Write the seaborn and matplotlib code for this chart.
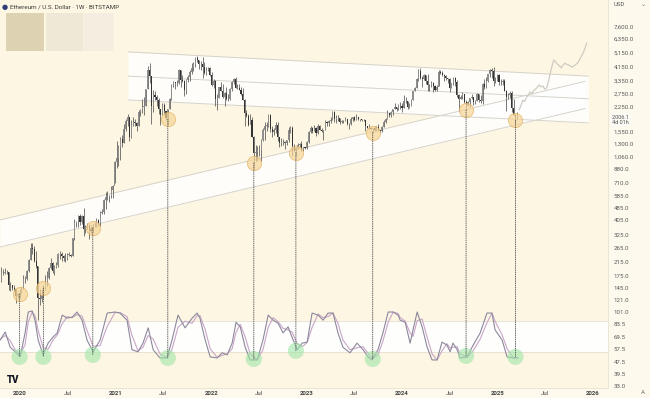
import matplotlib
matplotlib.use("Agg")
import matplotlib.pyplot as plt
import matplotlib.dates as mdates
import matplotlib.transforms as mtransforms
from matplotlib.patches import Rectangle, ConnectionPatch
from matplotlib.ticker import FixedLocator, FuncFormatter, NullLocator
import numpy as np
import pandas as pd
import seaborn as sns

# --- Bougies hebdomadaires ETH/USD (Bitstamp), lundi 2019-10-21 -> 2025-03-17 ---
first_open = 162
close = [
    181, 183, 185, 184, 151, 151, 145, 142, 128, 132, 135,  # 2019
    143, 167, 167, 189, 223, 266, 261, 217, 201, 124, 122, 131, 143,
    158, 170, 197, 211, 188, 199, 206, 243, 244, 234, 229, 227, 241,
    241, 236, 310, 386, 392, 433, 396, 430, 353, 366, 373, 354, 346,
    367, 366, 405, 386, 455, 461, 550, 575, 584, 588, 637, 685, 975,  # 2020
    1040, 1232, 1382, 1313, 1610, 1810, 1930, 1420, 1720, 1790, 1780, 1690, 2080,
    2150, 2240, 2300, 2950, 3920, 3580, 2280, 2700, 2640, 2510, 2170, 1990, 2330,
    2130, 1900, 2190, 2560, 3160, 3300, 3250, 3230, 3930, 3410, 3330, 2920, 3390,
    3560, 3840, 4070, 4300, 4730, 4570, 4290, 4290, 4130, 3780, 3940, 4040, 3680,  # 2021
    3140, 3330, 2530, 2600, 3050, 2880, 2610, 2780, 2550, 2560, 2950, 3300, 3450,
    3020, 2990, 2920, 2730, 2520, 2060, 1970, 1720, 1860, 1440, 1130, 1140, 1150,
    1170, 1360, 1600, 1700, 1700, 1990, 1620, 1550, 1580, 1720, 1440, 1310, 1310,
    1320, 1300, 1360, 1590, 1630, 1250, 1160, 1210, 1260, 1280, 1180, 1220, 1210,  # 2022
    1320, 1550, 1630, 1570, 1630, 1510, 1690, 1600, 1560, 1590, 1790, 1760, 1810,
    1860, 2090, 1870, 1910, 1900, 1800, 1820, 1830, 1890, 1750, 1730, 1880, 1940,
    1860, 1930, 1890, 1880, 1850, 1850, 1680, 1650, 1630, 1620, 1630, 1580, 1670,
    1580, 1560, 1670, 1800, 1880, 2050, 2010, 2090, 2190, 2240, 2200, 2270, 2300,  # 2023
    2220, 2480, 2460, 2260, 2290, 2500, 2880, 2990, 3420, 3890, 3510, 3450, 3640,
    3340, 3150, 3160, 3250, 3100, 2930, 3070, 3830, 3780, 3680, 3620, 3500, 3440,
    3020, 3250, 3520, 3270, 2700, 2560, 2620, 2750, 2430, 2330, 2420, 2580, 2640, 2440,
    2470, 2750, 2490, 2450, 3190, 3060, 3350, 3710, 3940, 3870, 3320, 3350, 3630,  # 2024
    3270, 3310, 3320, 2880, 2630, 2690, 2770, 2230, 2010, 1930, 2006,  # 2025
]
high = [
    198, 193, 197, 190, 185, 158, 153, 151, 144, 135, 144,
    148, 176, 173, 191, 224, 287, 285, 275, 253, 201, 142, 144, 153,
    177, 187, 199, 227, 215, 205, 215, 245, 253, 250, 240, 248, 245,
    249, 243, 311, 415, 400, 440, 444, 440, 488, 378, 391, 380, 371,
    380, 394, 420, 415, 466, 478, 557, 622, 633, 594, 680, 690, 1000,
    1350, 1260, 1440, 1470, 1750, 1870, 2040, 1950, 1850, 1940, 1890, 1800, 2140,
    2190, 2550, 2640, 2950, 4200, 4380, 3600, 2900, 2890, 2700, 2590, 2160, 2400,
    2400, 2090, 2200, 2580, 3190, 3320, 3300, 3370, 4030, 3960, 3680, 3370, 3450,
    3670, 3960, 4380, 4460, 4810, 4870, 4560, 4550, 4780, 4420, 4100, 4100, 4120,
    3840, 3420, 3370, 2730, 3070, 3290, 3200, 2830, 3040, 2750, 2990, 3330, 3480,
    3570, 3180, 3180, 3040, 2990, 2540, 2150, 2040, 2020, 1930, 1450, 1260, 1240,
    1270, 1380, 1650, 1790, 1790, 2020, 2020, 1700, 1640, 1790, 1790, 1400, 1400,
    1390, 1340, 1370, 1660, 1680, 1680, 1280, 1230, 1310, 1300, 1350, 1230, 1230,
    1340, 1570, 1680, 1660, 1710, 1670, 1740, 1720, 1650, 1600, 1840, 1830, 1840,
    1940, 2130, 2130, 1980, 2010, 1900, 1860, 1860, 1930, 1890, 1770, 1930, 1950,
    1970, 2030, 1940, 1890, 1870, 1870, 1860, 1700, 1740, 1660, 1650, 1680, 1690,
    1750, 1600, 1700, 1860, 1900, 2140, 2070, 2130, 2200, 2400, 2260, 2350, 2440,
    2380, 2720, 2610, 2460, 2390, 2530, 2880, 3030, 3520, 3990, 4090, 3580, 3730,
    3640, 3720, 3200, 3340, 3300, 3130, 3130, 3970, 3950, 3880, 3710, 3630, 3520,
    3480, 3250, 3550, 3540, 3390, 2760, 2720, 2820, 2760, 2490, 2470, 2600, 2730, 2640,
    2520, 2770, 2760, 2720, 3250, 3440, 3570, 3730, 4010, 4080, 4100, 3540, 3740,
    3740, 3450, 3450, 3430, 2920, 2790, 2850, 2860, 2550, 2030, 2100,
]
low = [
    158, 176, 179, 180, 140, 139, 141, 139, 116, 124, 125,
    135, 142, 156, 165, 186, 221, 244, 214, 196, 90, 112, 118, 125,
    140, 149, 167, 193, 181, 178, 196, 198, 225, 220, 220, 216, 222,
    235, 231, 235, 301, 365, 364, 379, 380, 317, 332, 355, 307, 333,
    338, 363, 364, 374, 373, 448, 447, 480, 554, 535, 570, 570, 712,
    890, 925, 1010, 1230, 1300, 1560, 1690, 1350, 1400, 1690, 1700, 1560, 1700,
    1970, 2070, 2000, 2290, 2950, 3230, 1730, 2100, 2500, 2300, 2030, 1720, 1990,
    2040, 1860, 1720, 2180, 2510, 3040, 2950, 3090, 3210, 3030, 3280, 2660, 2750,
    3280, 3360, 3700, 3900, 4140, 4480, 3980, 3930, 3500, 3700, 3640, 3900, 3600,
    3090, 3000, 2300, 2160, 2580, 2860, 2580, 2300, 2500, 2450, 2500, 2880, 3200,
    3000, 2950, 2900, 2720, 2500, 1700, 1930, 1700, 1730, 1430, 880, 1000, 1000,
    1080, 1000, 1350, 1360, 1560, 1660, 1550, 1430, 1470, 1510, 1350, 1220, 1250,
    1270, 1190, 1270, 1330, 1510, 1070, 1150, 1080, 1200, 1230, 1150, 1160, 1190,
    1190, 1310, 1510, 1530, 1560, 1460, 1500, 1580, 1540, 1370, 1580, 1680, 1680,
    1770, 1850, 1800, 1780, 1810, 1740, 1780, 1760, 1820, 1720, 1620, 1720, 1820,
    1820, 1850, 1860, 1830, 1810, 1820, 1560, 1630, 1620, 1600, 1530, 1570, 1570,
    1570, 1520, 1540, 1660, 1760, 1870, 1930, 1940, 2010, 2180, 2130, 2140, 2200,
    2100, 2220, 2410, 2170, 2220, 2280, 2490, 2880, 3000, 3360, 3430, 3060, 3400,
    3200, 2850, 2860, 3060, 2820, 2860, 2860, 3080, 3720, 3600, 3350, 3380, 3250,
    2810, 3000, 3130, 3090, 2630, 2110, 2530, 2550, 2400, 2150, 2280, 2260, 2560, 2310,
    2340, 2460, 2440, 2400, 2350, 2960, 3020, 3270, 3550, 3520, 3100, 3250, 3320,
    3160, 3160, 3130, 2860, 2120, 2560, 2600, 2080, 1990, 1760, 1890,
]

# Projection fantôme (barres grisées) 2025-03-24 -> 2025-12-08
ghost_close = [
    2150, 2300, 2500, 2450, 2600, 2700, 2830, 2750, 2900, 2950, 3050, 3150, 3050,
    3100, 2950, 3000, 3300, 3750, 4200, 4600, 4450, 4300, 4200, 4070, 4250, 4380,
    4300, 4250, 4200, 4120, 4200, 4300, 4380, 4600, 4850, 5100, 5500, 5940,
]

# Canaux (deux points d'ancrage chacun)
desc_dates = ["2021-02-17", "2025-12-14"]
desc_top = [5190, 3595]
desc_mid = [3595, 2550]
desc_bot = [2505, 1770]
asc_dates = ["2019-10-16", "2025-12-01"]
asc_top = [407, 3320]
asc_bot = [270, 2200]

# Creux marqués (cercles oranges / verts)
low_dates = ["2019-12-30", "2020-03-30", "2020-10-05", "2021-07-19", "2022-06-13",
             "2022-11-21", "2023-09-11", "2024-09-02", "2025-03-10"]
low_prices = [132, 145, 360, 1870, 965, 1130, 1530, 2150, 1840]
osc_lows = [10, 10, 14, 8, 6, 22, 6, 12, 10]

# Stoch RSI
osc_dates = [
    "2019-10-17", "2019-11-05", "2019-11-24", "2019-12-13", "2020-01-01", "2020-01-20",
    "2020-02-01", "2020-02-16", "2020-02-27", "2020-03-10", "2020-03-29", "2020-04-17",
    "2020-05-06", "2020-05-22", "2020-06-10", "2020-06-29", "2020-07-18", "2020-08-06",
    "2020-08-25", "2020-09-13", "2020-10-06", "2020-11-02", "2020-11-29", "2020-12-29",
    "2021-01-17", "2021-02-13", "2021-03-04", "2021-03-27", "2021-04-15", "2021-05-05",
    "2021-05-24", "2021-06-19", "2021-07-16", "2021-08-04", "2021-08-27", "2021-09-23",
    "2021-10-20", "2021-11-08", "2021-11-19", "2021-12-09", "2021-12-28", "2022-01-24",
    "2022-02-12", "2022-03-03", "2022-03-22", "2022-04-06", "2022-04-22", "2022-05-11",
    "2022-05-30", "2022-06-26", "2022-07-18", "2022-08-07", "2022-08-26", "2022-09-14",
    "2022-10-03", "2022-10-22", "2022-11-06", "2022-11-26", "2022-12-15", "2023-01-03",
    "2023-01-22", "2023-02-14", "2023-03-05", "2023-03-24", "2023-04-12", "2023-05-01",
    "2023-05-20", "2023-06-16", "2023-07-13", "2023-08-05", "2023-08-24", "2023-09-08",
    "2023-10-01", "2023-10-20", "2023-11-09", "2023-11-28", "2023-12-17", "2023-12-25",
    "2024-01-13", "2024-02-01", "2024-02-12", "2024-02-28", "2024-03-18", "2024-04-06",
    "2024-04-25", "2024-05-14", "2024-06-02", "2024-06-21", "2024-07-03", "2024-07-14",
    "2024-07-30", "2024-08-10", "2024-09-06", "2024-09-29", "2024-10-26", "2024-11-21",
    "2024-12-10", "2024-12-22", "2025-01-18", "2025-02-06", "2025-03-01", "2025-03-20",
]
osc_k = [
    43, 59, 29, 20, 10, 57, 98, 100, 82, 43, 14, 37, 49, 57, 92, 86, 88, 98, 82, 43,
    20, 43, 96, 98, 96, 82, 24, 20, 37, 67, 24, 8, 8, 43, 92, 67, 86, 96, 86, 43,
    10, 8, 18, 14, 37, 78, 69, 29, 4, 4, 43, 92, 82, 76, 57, 69, 49, 24, 37, 39,
    96, 92, 82, 96, 96, 57, 29, 18, 37, 24, 10, 4, 24, 57, 98, 98, 92, 82, 78, 37,
    63, 98, 69, 29, 4, 4, 39, 33, 20, 37, 24, 8, 10, 33, 57, 96, 96, 63, 43, 10, 8, 8,
]
osc_d = [
    45, 52, 42, 24, 15, 34, 78, 98, 91, 62, 28, 25, 43, 53, 75, 89, 87, 93, 90, 62,
    31, 32, 70, 97, 97, 89, 52, 22, 29, 52, 45, 16, 8, 25, 68, 80, 76, 91, 91, 64,
    26, 9, 13, 16, 26, 58, 74, 49, 16, 4, 24, 68, 87, 79, 66, 63, 59, 36, 30, 38,
    68, 94, 87, 89, 96, 76, 43, 24, 28, 30, 17, 7, 14, 41, 78, 98, 95, 87, 80, 57,
    50, 81, 84, 49, 16, 4, 22, 36, 27, 29, 30, 16, 9, 22, 45, 77, 96, 80, 53, 26, 9, 8,
]

price_ticks = [7600, 6350, 5150, 4150, 3350, 2750, 2250, 1550, 1300, 1060, 880, 710,
               585, 485, 405, 325, 265, 215, 175, 145, 121, 101, 83.5, 69.5, 57.5,
               47.5, 39.5, 33.0]
last_price = 2006.1

# ---------------------------------------------------------------------------
sns.set_style("white")
plt.rcParams["font.family"] = ["Roboto", "DejaVu Sans"]

BG = "#fcf6e3"
W, H = 650, 398
fig = plt.figure(figsize=(6.5, 3.98), dpi=100)
fig.patch.set_facecolor("#fdf9ed")

ax = fig.add_axes([0, 10 / H, 608 / W, 388 / H])
ax.set_facecolor(BG)

dates = pd.date_range("2019-10-21", periods=len(close), freq="7D")
c = np.array(close, dtype=float)
o = np.array([first_open] + close[:-1], dtype=float)
hi = np.array(high, dtype=float)
lo = np.array(low, dtype=float)

# Canaux
dd = pd.to_datetime(desc_dates)
ax.fill_between(dd, desc_bot, desc_top, color="white", alpha=0.8, lw=0, zorder=1)
for ys in (desc_top, desc_mid, desc_bot):
    ax.plot(dd, ys, color="#d6d3cb", lw=0.7, zorder=1.5)
ad = pd.to_datetime(asc_dates)
ax.fill_between(ad, asc_bot, asc_top, color="white", alpha=0.85, lw=0, zorder=1)
for ys in (asc_top, asc_bot):
    ax.plot(ad, ys, color="#d6d3cb", lw=0.7, zorder=1.5)

# Bougies
up = c >= o
ax.vlines(dates, lo, hi, color="#555555", lw=0.55, zorder=3)
ax.bar(dates, np.maximum(np.abs(c - o), c * 0.004), bottom=np.minimum(o, c), width=4.2,
       color=np.where(up, "#8f8f8f", "#333333"), lw=0, zorder=3.5)

# Projection fantôme
gdates = pd.date_range("2025-03-24", periods=len(ghost_close), freq="7D")
sns.lineplot(x=gdates, y=ghost_close, ax=ax, color="#cfccc4", lw=0.9, zorder=2)

# Creux
ldates = pd.to_datetime(low_dates)
sns.scatterplot(x=ldates, y=low_prices, ax=ax, s=105, color="#f6d596", alpha=0.7,
                edgecolor="#e2ad58", linewidth=0.6, zorder=5)

ax.set_yscale("log")
ax.set_ylim(31.9, 11390)
xlim = (mdates.date2num(pd.Timestamp("2019-10-16")), mdates.date2num(pd.Timestamp("2026-02-27")))
ax.set_xlim(xlim)

ax.yaxis.tick_right()
ax.yaxis.set_major_locator(FixedLocator(price_ticks))
ax.yaxis.set_minor_locator(NullLocator())
ax.yaxis.set_major_formatter(FuncFormatter(lambda v, p: f"{v:,.1f}"))
ax.tick_params(axis="y", length=0, pad=4, labelsize=4.4, labelcolor="#5a5a5a")

xt = []
xl = []
for yr in range(2020, 2027):
    xt.append(pd.Timestamp(f"{yr}-01-01"))
    xl.append(str(yr))
    if yr < 2026:
        xt.append(pd.Timestamp(f"{yr}-07-01"))
        xl.append("Jul")
ax.set_xticks(xt)
ax.set_xticklabels(xl)
ax.tick_params(axis="x", length=0, pad=2.5, labelsize=4.4, labelcolor="#444444")
for t in ax.get_xticklabels():
    if t.get_text() != "Jul":
        t.set_fontweight("bold")
ax.set_xlabel("")
ax.set_ylabel("")
for s in ("top", "left"):
    ax.spines[s].set_visible(False)
for s in ("right", "bottom"):
    ax.spines[s].set_color("#e8e2cf")
    ax.spines[s].set_linewidth(0.6)

# Étiquette de prix courant
tr = mtransforms.blended_transform_factory(ax.transAxes, ax.transData)
ax.text(1.006, last_price, f"{last_price:,.1f}\n4d 01h", transform=tr, fontsize=4.0,
        color="#555555", va="top", ha="left", linespacing=1.05,
        bbox=dict(boxstyle="square,pad=0.25", fc="#fbfaf5", ec="none"), zorder=10)

# --- Oscillateur (Stoch RSI) superposé ---
osc = fig.add_axes([0, 10 / H, 608 / W, 88 / H])
osc.set_facecolor("none")
osc.axhspan(20, 80, color="white", alpha=0.9, lw=0, zorder=0)
osc.axhline(20, color="#e3dfd2", lw=0.6, zorder=0.5)
osc.axhline(80, color="#e3dfd2", lw=0.6, zorder=0.5)
odates = pd.to_datetime(osc_dates)
sns.lineplot(x=odates, y=osc_d, ax=osc, color="#c8a6c8", lw=0.8, zorder=2)
sns.lineplot(x=odates, y=osc_k, ax=osc, color="#8d889c", lw=0.8, zorder=2.5)
sns.scatterplot(x=ldates, y=osc_lows, ax=osc, s=135, color="#9fe6a8", alpha=0.6,
                edgecolor="none", zorder=3)
osc.set_xlim(xlim)
osc.set_ylim(-51, 121.6)
osc.axis("off")

# Pointillés entre les creux de prix et ceux de l'oscillateur
for d, p, v in zip(ldates, low_prices, osc_lows):
    xn = mdates.date2num(d)
    con = ConnectionPatch(xyA=(xn, p), coordsA=ax.transData, xyB=(xn, v), coordsB=osc.transData,
                          color="#4a4a4a", lw=0.6, linestyle=(0, (1, 1.6)), zorder=6)
    fig.add_artist(con)

# En-tête façon TradingView
fig.text(5 / W, 1 - 7 / H, "\u25CF", fontsize=5, color="#2f3a7a", va="center", ha="center")
fig.text(10 / W, 1 - 7 / H, "Ethereum / U.S. Dollar \u00b7 1W \u00b7 BITSTAMP", fontsize=4.5,
         color="#3a3a3a", va="center", ha="left")
for x0, x1, col in ((6, 44, "#ddd3b3"), (46, 83, "#eee8d6"), (83, 114, "#f3eedf")):
    fig.add_artist(Rectangle((x0 / W, 1 - 51 / H), (x1 - x0) / W, 38 / H,
                             transform=fig.transFigure, color=col, lw=0))
fig.text(614 / W, 1 - 5 / H, "USD", fontsize=4.3, color="#555555", va="center")
fig.text(641 / W, 1 - 5 / H, "\u2304", fontsize=4.3, color="#777777", va="center")
fig.text(7 / W, 1 - 380 / H, "TV", fontsize=7, fontweight="black", color="#131722", va="center")
fig.text(641 / W, 1 - 393 / H, "A", fontsize=4.3, color="#777777", va="center")

fig.savefig("out.png", dpi=100, facecolor=fig.get_facecolor())
